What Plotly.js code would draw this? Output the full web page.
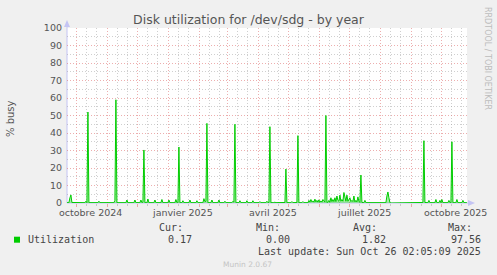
<!DOCTYPE html>
<html>
<head>
<meta charset="utf-8">
<script src="https://cdn.plot.ly/plotly-3.0.1.min.js"></script>
<style>
html,body{margin:0;padding:0;background:#f0f0f0;}
#chart{width:497px;height:275px;}
</style>
</head>
<body>
<div id="chart"></div>
<script>
// ---- data ----
var startDay = '2024-09-21';
var rangeStart = '2024-09-21 02:05';
var rangeEnd = '2025-10-26 02:05';
// day index since startDay
var dayIndex = [0,2,3,4,5,18,19,20,21,22,31,32,33,47,48,49,50,59,60,61,67,68,69,73,74,75,76,77,78,80,81,82,87,88,89,94,95,96,101,102,103,108,109,110,111,112,113,115,116,117,122,123,124,129,130,131,136,137,138,139,140,141,144,145,146,151,152,153,157,158,159,165,166,167,168,169,172,173,174,179,180,181,185,186,187,192,193,194,199,200,201,202,203,204,207,208,209,214,215,216,218,219,220,224,225,226,230,231,232,235,236,237,241,242,243,244,245,246,247,248,249,250,251,252,253,254,255,256,257,258,259,260,261,262,263,264,265,266,267,268,269,270,271,272,273,274,275,276,277,278,279,280,281,282,283,284,285,286,287,288,289,290,291,292,293,294,295,297,298,299,304,305,306,310,311,312,319,320,321,322,323,324,355,356,357,358,361,362,363,368,369,370,372,373,374,375,376,381,382,383,384,385,386,389,390,391,395,396,397,400];
var busy = [0.2,0.2,3,4.6,0.3,0.2,1,0.2,52,0.2,0.2,1,0.2,0.2,1.5,59,0.2,0.2,1.7,0.2,0.2,1.7,0.2,0.2,1.7,0.2,0.5,30.3,0.2,0.2,2.3,0.2,0.2,1.7,0.2,0.2,2,0.2,0.2,1.7,0.2,0.2,2,0.2,0.5,32,0.2,0.2,1.3,0.2,0.2,1.7,0.2,0.2,1.3,0.2,0.2,2.5,0.8,1,45.5,0.2,0.2,1.7,0.2,0.2,1.7,0.2,0.2,1,0.2,0.2,1,0.5,45,0.2,0.2,1.3,0.2,0.2,1.3,0.2,0.2,1.3,0.2,0.2,0.8,0.2,0.2,1,0.2,0.3,43.6,0.2,0.2,0.5,0.2,0.2,0.5,0.2,0.3,19.4,0.2,0.2,0.8,0.2,0.3,38.5,0.2,0.2,0.8,0.2,0.2,1.5,0.5,2,0.6,1.2,0.5,2.2,0.6,1.5,0.5,1.8,0.5,1.2,0.5,2,1,0.5,50,0.3,0.5,1.5,0.5,3,0.8,2,0.8,3,0.8,4,1.5,1,4.5,1,2,1,6,2.5,1,4.5,1,2,3,0.8,1.5,0.8,4,0.6,1.5,0.6,3.5,1,0.4,16,0.3,0.2,1.5,0.2,0.2,0.5,0.2,0.2,0.5,0.2,0.2,4,6.3,3,0.2,0,0,0.3,35.6,0.3,0.2,1.5,0.2,0.2,2,0.2,0.2,1.5,0.2,2,0.2,0.2,1.5,0.2,0.4,35,0.2,0.2,2,0.2,0.2,1.5,0.2,0.17];

var monthStarts = ['2024-10-01','2024-11-01','2024-12-01','2025-01-01','2025-02-01','2025-03-01','2025-04-01','2025-05-01','2025-06-01','2025-07-01','2025-08-01','2025-09-01','2025-10-01'];
var minorDays = ['2024-10-11','2024-10-21','2024-11-11','2024-11-21','2024-12-11','2024-12-21','2025-01-11','2025-01-21','2025-02-11','2025-02-21','2025-03-11','2025-03-21','2025-04-11','2025-04-21','2025-05-11','2025-05-21','2025-06-11','2025-06-21','2025-07-11','2025-07-21','2025-08-11','2025-08-21','2025-09-11','2025-09-21','2025-10-11','2025-10-21'];
var labelDates = ['2024-10-15','2025-01-15','2025-04-15','2025-07-15','2025-10-15'];
var labelText = ['octobre 2024','janvier 2025','avril 2025','juillet 2025','octobre 2025'];
var yTicks = [0,10,20,30,40,50,60,70,80,90,100];
var yMinor = [5,15,25,35,45,55,65,75,85,95];

var seriesName = 'Utilization';
var statCur = '0.17', statMin = '0.00', statAvg = '1.82', statMax = '97.56';
var lastUpdate = 'Last update: Sun Oct 26 02:05:09 2025';

// ---- build ----
var t0 = Date.parse(startDay + 'T00:00:00Z');
var xDates = dayIndex.map(function(d){ return new Date(t0 + d*86400000).toISOString().slice(0,10); });

// pixel helpers for decorations (plot area: x 67..467, y 28..203)
function px(x){ return (x-67)/400; }
function py(y){ return (203-y)/175; }

var MONO = 'DejaVu Sans Mono';
var SANS = 'DejaVu Sans';
var red = 'rgba(225,120,120,0.6)';
var grey = 'rgba(160,160,160,0.5)';
var axisCol = '#c4c4f4';
var DOT = '1px,2px';

var trace = {
  x: xDates, y: busy, type: 'scatter', mode: 'lines',
  line: {color: '#00cc00', width: 1},
  fill: 'tozeroy', fillcolor: 'rgba(0,204,0,0.35)',
  hoverinfo: 'skip', showlegend: false
};

var annotations = [
  {text: '% busy', xref: 'paper', yref: 'paper', x: px(10), y: py(119), textangle: -90, showarrow: false, xanchor: 'center', yanchor: 'middle', font: {family: SANS, size: 10, color: '#555'}},
  {text: 'RRDTOOL / TOBI OETIKER', xref: 'paper', yref: 'paper', x: px(487), y: py(58), textangle: 90, showarrow: false, xanchor: 'center', yanchor: 'middle', font: {family: SANS, size: 8, color: '#bcbcbc'}},
  {text: 'Cur:', xref: 'paper', yref: 'paper', x: px(157), y: py(227.3), showarrow: false, xanchor: 'left', yanchor: 'middle', font: {family: MONO, size: 10, color: '#444'}},
  {text: 'Min:', xref: 'paper', yref: 'paper', x: px(253.5), y: py(227.3), showarrow: false, xanchor: 'left', yanchor: 'middle', font: {family: MONO, size: 10, color: '#444'}},
  {text: 'Avg:', xref: 'paper', yref: 'paper', x: px(350.5), y: py(227.3), showarrow: false, xanchor: 'left', yanchor: 'middle', font: {family: MONO, size: 10, color: '#444'}},
  {text: 'Max:', xref: 'paper', yref: 'paper', x: px(446), y: py(227.3), showarrow: false, xanchor: 'left', yanchor: 'middle', font: {family: MONO, size: 10, color: '#444'}},
  {text: seriesName, xref: 'paper', yref: 'paper', x: px(25.5), y: py(239.5), showarrow: false, xanchor: 'left', yanchor: 'middle', font: {family: MONO, size: 10, color: '#444'}},
  {text: statCur, xref: 'paper', yref: 'paper', x: px(194), y: py(239.5), showarrow: false, xanchor: 'right', yanchor: 'middle', font: {family: MONO, size: 10, color: '#444'}},
  {text: statMin, xref: 'paper', yref: 'paper', x: px(291.5), y: py(239.5), showarrow: false, xanchor: 'right', yanchor: 'middle', font: {family: MONO, size: 10, color: '#444'}},
  {text: statAvg, xref: 'paper', yref: 'paper', x: px(387.5), y: py(239.5), showarrow: false, xanchor: 'right', yanchor: 'middle', font: {family: MONO, size: 10, color: '#444'}},
  {text: statMax, xref: 'paper', yref: 'paper', x: px(483), y: py(239.5), showarrow: false, xanchor: 'right', yanchor: 'middle', font: {family: MONO, size: 10, color: '#444'}},
  {text: lastUpdate, xref: 'paper', yref: 'paper', x: px(483), y: py(251.7), showarrow: false, xanchor: 'right', yanchor: 'middle', font: {family: MONO, size: 10, color: '#444'}},
  {text: 'Munin 2.0.67', xref: 'paper', yref: 'paper', x: px(247.7), y: py(264), showarrow: false, xanchor: 'center', yanchor: 'middle', font: {family: SANS, size: 7.5, color: '#c4c4c4'}}
];
// x-axis month labels (rrdtool centres them mid-interval, not on the grid line)
labelDates.forEach(function(d, i){
  annotations.push({text: labelText[i], xref: 'x', yref: 'paper', x: d, y: py(212), showarrow: false,
    xanchor: 'center', yanchor: 'middle', font: {family: SANS, size: 9.5, color: '#555'}});
});

var layout = {
  width: 497, height: 275,
  margin: {l: 67, r: 30, t: 28, b: 72, pad: 0},
  paper_bgcolor: '#f0f0f0', plot_bgcolor: '#ffffff',
  showlegend: false,
  title: {text: 'Disk utilization for /dev/sdg - by year', font: {family: SANS, size: 12.5, color: '#555'},
          xref: 'container', x: 0.5, xanchor: 'center', yref: 'container', y: 1 - 19.5/275, yanchor: 'middle'},
  xaxis: {
    type: 'date', range: [rangeStart, rangeEnd], fixedrange: true,
    tickmode: 'array', tickvals: monthStarts, showticklabels: false,
    showgrid: true, gridcolor: red, griddash: DOT, gridwidth: 1,
    zeroline: false, showline: false, ticks: 'outside', ticklen: 3, tickcolor: red, tickwidth: 1,
    minor: {tickmode: 'array', tickvals: minorDays, showgrid: true, gridcolor: grey, griddash: DOT, gridwidth: 1,
            ticks: 'outside', ticklen: 2, tickcolor: grey, tickwidth: 1}
  },
  yaxis: {
    range: [0, 100], fixedrange: true, tickmode: 'array', tickvals: yTicks,
    tickfont: {family: SANS, size: 9.5, color: '#555'},
    showgrid: true, gridcolor: red, griddash: DOT, gridwidth: 1,
    zeroline: false, showline: false, ticks: '', ticklabelstandoff: 4,
    minor: {tickmode: 'array', tickvals: yMinor, showgrid: true, gridcolor: grey, griddash: DOT, gridwidth: 1}
  },
  shapes: [
    {type: 'line', xref: 'paper', yref: 'paper', x0: 0, x1: 0, y0: 0, y1: py(24), line: {color: axisCol, width: 1}, layer: 'below'},
    {type: 'line', xref: 'paper', yref: 'paper', x0: 0, x1: px(470), y0: 0, y1: 0, line: {color: axisCol, width: 1}, layer: 'below'},
    {type: 'path', xref: 'paper', yref: 'paper', path: 'M '+px(64)+' '+py(27)+' L '+px(67)+' '+py(20)+' L '+px(70)+' '+py(27)+' Z', fillcolor: axisCol, line: {width: 0}},
    {type: 'path', xref: 'paper', yref: 'paper', path: 'M '+px(468)+' '+py(200)+' L '+px(475)+' '+py(203)+' L '+px(468)+' '+py(206)+' Z', fillcolor: axisCol, line: {width: 0}},
    {type: 'rect', xref: 'paper', yref: 'paper', x0: px(14), x1: px(20), y0: py(242.7), y1: py(236.7), fillcolor: '#00cc00', line: {width: 0}}
  ],
  annotations: annotations
};

Plotly.newPlot('chart', [trace], layout, {staticPlot: true, displayModeBar: false});
</script>
</body>
</html>
